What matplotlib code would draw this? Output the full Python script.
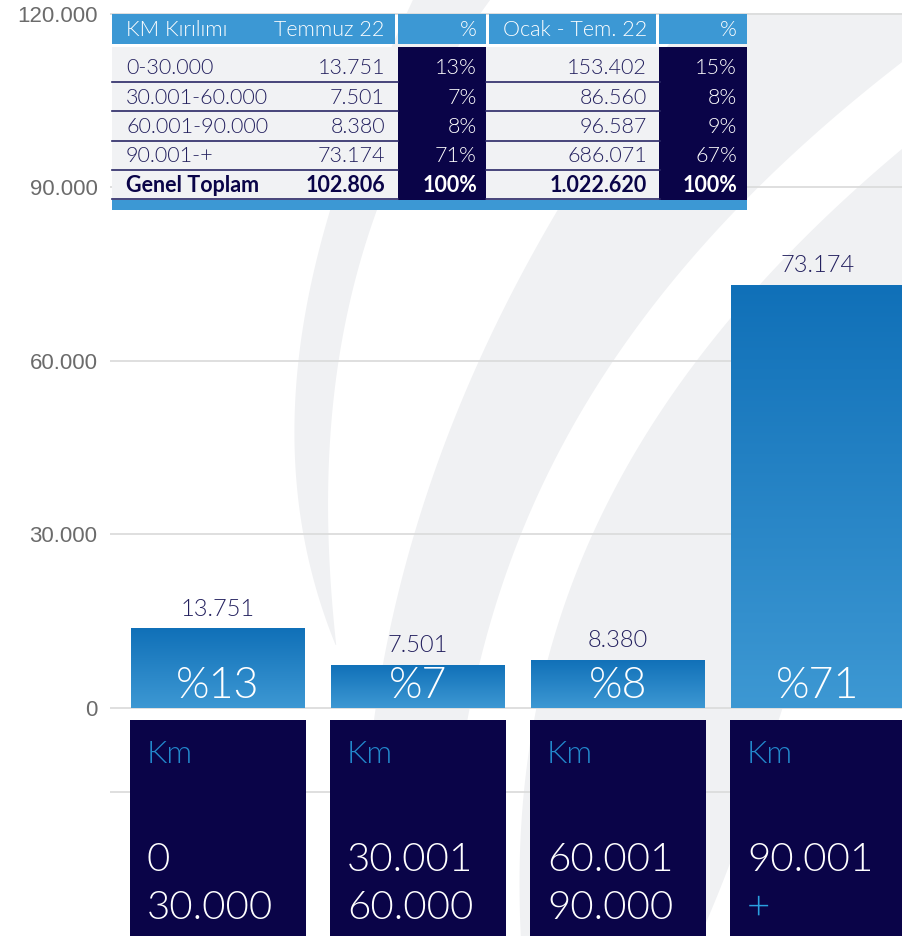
import matplotlib
matplotlib.use('Agg')
import matplotlib.pyplot as plt
import numpy as np
from matplotlib.colors import LinearSegmentedColormap
from matplotlib.patches import Rectangle, Polygon

# data
categories = ['0-30.000', '30.001-60.000', '60.001-90.000', '90.001-+']
temmuz = [13751, 7501, 8380, 73174]
temmuz_pct = [13, 7, 8, 71]
ocak_tem = [153402, 86560, 96587, 686071]
ocak_pct = [15, 8, 9, 67]
total_label = 'Genel Toplam'
temmuz_total = 102806
ocak_total = 1022620
range_low = ['0', '30.001', '60.001', '90.001']
range_high = ['30.000', '60.000', '90.000', '+']
yticks = [0, 30000, 60000, 90000, 120000]

NAVY = '#0a0448'
TXT = '#24215f'
BLUE_HDR = '#3c98d4'
BAND = '#f0f1f3'
FONT = 'Lato'
LIGHT = 300


def fmt(v):
    return f"{v:,}".replace(',', '.')


fig = plt.figure(figsize=(9.02, 9.36), dpi=100)

# background swooshes (pixel coordinates)
bg = fig.add_axes([0, 0, 1, 1], zorder=0)
bg.set_xlim(0, 902)
bg.set_ylim(936, 0)
bg.axis('off')


def edge(ys, xs, yy):
    c = np.polyfit(ys, xs, min(3, len(ys) - 1))
    return np.polyval(c, yy)


def band(left_pts, right_pts, y0, y1):
    yy = np.linspace(y0, y1, 150)
    xl = edge([p[0] for p in left_pts], [p[1] for p in left_pts], yy)
    xr = edge([p[0] for p in right_pts], [p[1] for p in right_pts], yy)
    pts = np.vstack([np.column_stack([xl, yy]), np.column_stack([xr, yy])[::-1]])
    bg.add_patch(Polygon(pts, closed=True, facecolor=BAND, edgecolor='none'))


band([(0, 413), (211, 329), (360, 300), (533, 302), (645, 336)],
     [(0, 490), (211, 377), (360, 338), (533, 329), (645, 336)], 0, 645)
band([(13, 690), (210, 569), (360, 469), (533, 412), (700, 383), (936, 362)],
     [(13, 965), (65, 902), (200, 747), (333, 633), (533, 515), (700, 477), (936, 445)], 13, 936)
band([(13, 1080), (170, 902), (290, 730), (450, 640), (600, 570), (936, 520)],
     [(13, 1400), (300, 1000), (600, 820), (936, 700)], 13, 936)

# main chart
ax = fig.add_axes([110 / 902, 0, 792 / 902, 1], zorder=1)
ax.set_facecolor('none')
x = np.arange(len(categories))
w = 0.87

for yv in yticks + [-14500]:
    ax.axhline(yv, color='#dcdcdc', lw=1.3, zorder=0.5)

bars = ax.bar(x, temmuz, width=w, color='none', edgecolor='none', zorder=2)
cmap = LinearSegmentedColormap.from_list('g', ['#3d98d3', '#1070b8'])
grad = np.linspace(0, 1, 256).reshape(-1, 1)
for b in bars:
    im = ax.imshow(grad, cmap=cmap, origin='lower', aspect='auto', zorder=2,
                   extent=[b.get_x(), b.get_x() + b.get_width(), 0, b.get_height()])
    im.set_clip_path(b)
ax.set_xlim(-0.54, 3.42)
ax.set_ylim(-39424, 122420)

for xi, v, p in zip(x, temmuz, temmuz_pct):
    ax.annotate(fmt(v), (xi, v), xytext=(0, 14), textcoords='offset points',
                ha='center', va='center', fontsize=17, color=TXT, family=FONT,
                fontweight=LIGHT, zorder=3)
    ax.text(xi, 3800, f"%{p}", ha='center', va='center', fontsize=31,
            color='white', family=FONT, fontweight=LIGHT, zorder=3)

# navy boxes under the axis
ax.bar(x, -40000, width=0.88, bottom=-2075, color=NAVY, edgecolor='none', zorder=2)
for xi, lo, hi in zip(x, range_low, range_high):
    tx = xi - 0.355
    ax.text(tx, -8100, 'Km', ha='left', va='center', fontsize=23, color='#2288cc',
            family=FONT, fontweight=LIGHT, zorder=3)
    ax.text(tx, -26300, lo, ha='left', va='center', fontsize=29, color='white',
            family=FONT, fontweight=LIGHT, zorder=3)
    ax.text(tx, -34600, hi, ha='left', va='center', fontsize=29,
            color='#2aa0e0' if hi == '+' else 'white',
            family=FONT, fontweight=LIGHT, zorder=3)

ax.set_yticks(yticks)
ax.set_yticklabels([fmt(v) for v in yticks], family='Liberation Sans', fontsize=16,
                   color='#6b6b6b')
ax.tick_params(axis='y', length=0, pad=9)
ax.set_xticks([])
for s in ax.spines.values():
    s.set_visible(False)

# table overlay (pixel coordinates)
tb = fig.add_axes([0, 0, 1, 1], zorder=3)
tb.set_facecolor('none')
tb.set_xlim(0, 902)
tb.set_ylim(936, 0)
tb.axis('off')


def cell(x0, x1, y0, y1, c):
    tb.add_patch(Rectangle((x0, y0), x1 - x0, y1 - y0, facecolor=c, edgecolor='none'))


for x0, x1 in [(112, 395), (398, 486), (489, 656), (659, 747)]:
    cell(x0, x1, 14, 44, BLUE_HDR)
cell(112, 398, 47, 200, '#f1f2f4')
cell(486, 659, 47, 200, '#f1f2f4')
cell(398, 486, 47, 200, NAVY)
cell(659, 747, 47, 200, NAVY)
cell(112, 747, 200, 210, BLUE_HDR)
for ly in [82, 111, 141, 170, 199]:
    tb.plot([112, 398], [ly, ly], color='#2a2866', lw=1.2)
    tb.plot([486, 660], [ly, ly], color='#2a2866', lw=1.2)

hkw = dict(va='center', fontsize=15.5, color='white', family=FONT, fontweight=LIGHT)
tb.text(126, 30, 'KM Kırılımı', ha='left', **hkw)
tb.text(384, 30, 'Temmuz 22', ha='right', **hkw)
tb.text(477, 30, '%', ha='right', **hkw)
tb.text(647, 30, 'Ocak - Tem. 22', ha='right', **hkw)
tb.text(737, 30, '%', ha='right', **hkw)

row_y = [68, 98, 127, 156, 185]
rows = list(zip(categories, temmuz, temmuz_pct, ocak_tem, ocak_pct))
rows.append((total_label, temmuz_total, 100, ocak_total, 100))
for i, (ry, r) in enumerate(zip(row_y, rows)):
    bold = i == len(rows) - 1
    kw = dict(va='center', fontsize=15.5, family=FONT, fontweight='bold' if bold else LIGHT)
    tc = NAVY if bold else TXT
    tb.text(126, ry, r[0], ha='left', color=tc, **kw)
    tb.text(385, ry, fmt(r[1]), ha='right', color=tc, **kw)
    tb.text(477, ry, f"{r[2]}%", ha='right', color='white', **kw)
    tb.text(647, ry, fmt(r[3]), ha='right', color=tc, **kw)
    tb.text(737, ry, f"{r[4]}%", ha='right', color='white', **kw)

plt.savefig('out.png', dpi=100)
